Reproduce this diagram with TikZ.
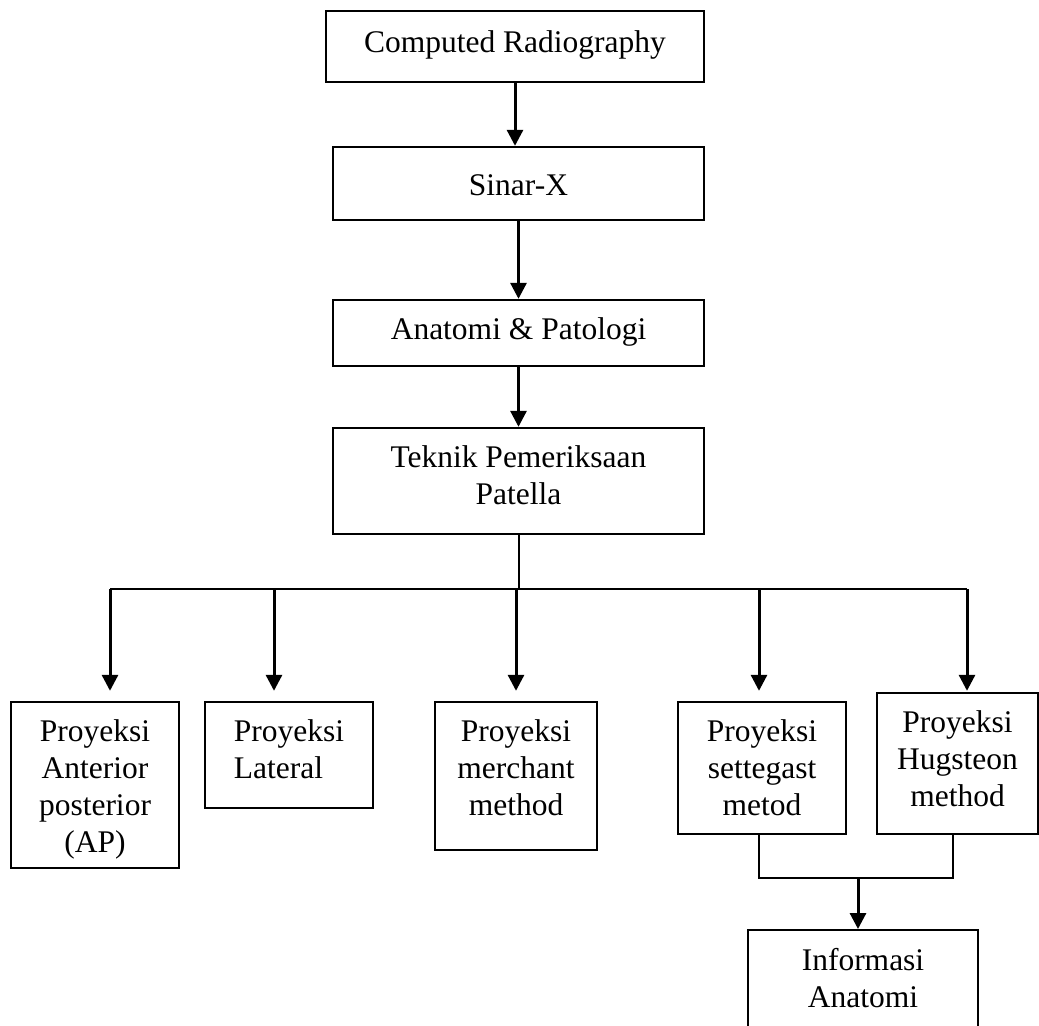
\documentclass[tikz,border=0pt]{standalone}
\usepackage{fontspec}
\setmainfont{Liberation Serif}
\usetikzlibrary{arrows.meta}

\tikzset{
	box/.style={draw, line width=1.2pt, inner sep=0pt},
	txt/.style={anchor=north, align=center, inner xsep=0pt, inner ysep=9.3pt},
	arr/.style={line width=1.5pt, -{Triangle[width=8pt,length=8pt]}},
	wire/.style={line width=1pt}
}

\begin{document}
\begin{tikzpicture}[x=0.5pt, y=-0.5pt, font=\fontsize{15.75}{18.5}\selectfont]
		\useasboundingbox (0,0) rectangle (1039,1025);
		\clip (0,0) rectangle (1039,1025);
		%top chain
			\node [box, minimum width=189pt, minimum height=35.5pt, label={[txt, inner ysep=10pt]north:Computed Radiography}] (radio) at (515,46.5) {};
			\node [box, minimum width=185.5pt, minimum height=36.5pt, label={[txt, inner ysep=14pt]north:Sinar-X}] (sinar) at (518.5,183.5) {};
			\node [box, minimum width=185.5pt, minimum height=33pt, label={[txt]north:Anatomi \& Patologi}] (anatomi) at (518.5,333) {};
			\node [box, minimum width=185.5pt, minimum height=53pt, label={[txt]north:{Teknik Pemeriksaan\\Patella}}] (teknik) at (518.5,481) {};
			\draw [arr] (radio.south) -- (radio.south |- sinar.north);
			\draw [arr] (sinar.south) -- (sinar.south |- anatomi.north);
			\draw [arr] (anatomi.south) -- (anatomi.south |- teknik.north);
		%projections
			\node [box, minimum width=84pt, minimum height=83pt, label={[txt]north:{Proyeksi\\Anterior\\posterior\\(AP)}}] (ap) at (95,785) {};
			\node [box, minimum width=84pt, minimum height=53pt, label={[txt, align=left]north:{Proyeksi\\Lateral}}] (lateral) at (289,755) {};
			\node [box, minimum width=81pt, minimum height=74pt, label={[txt]north:{Proyeksi\\merchant\\method}}] (merchant) at (516,776) {};
			\node [box, minimum width=84pt, minimum height=66pt, label={[txt]north:{Proyeksi\\settegast\\metod}}] (settegast) at (762,768) {};
			\node [box, minimum width=80.5pt, minimum height=70.5pt, label={[txt]north:{Proyeksi\\Hugsteon\\method}}] (hugsteon) at (957.5,763.5) {};
			%branching line
			\coordinate (busleft) at (110,589);
			\coordinate (busright) at (967,589);
			\draw [wire] (teknik.south) -- (teknik.south |- busleft);
			\draw [wire] (busleft) -- (busright);
			\foreach \x/\n/\s in {110/ap/5pt, 274/lateral/5pt, 516/merchant/5pt, 759/settegast/5pt, 967/hugsteon/0.5pt}
				\draw [arr, shorten >=\s] (\x,589) -- (\x,589 |- \n.north);
		%result
			\node [box, anchor=north, minimum width=115pt, minimum height=70pt, label={[txt]north:{Informasi\\Anatomi}}] (info) at (863,929) {};
			\coordinate (join) at (858,878);
			\draw [wire] ([xshift=-1.5pt]settegast.south) -- ([xshift=-1.5pt]settegast.south |- join) -| ([xshift=-2.25pt]hugsteon.south);
			\draw [arr] (join) -- (join |- info.north);
\end{tikzpicture}
\end{document}
